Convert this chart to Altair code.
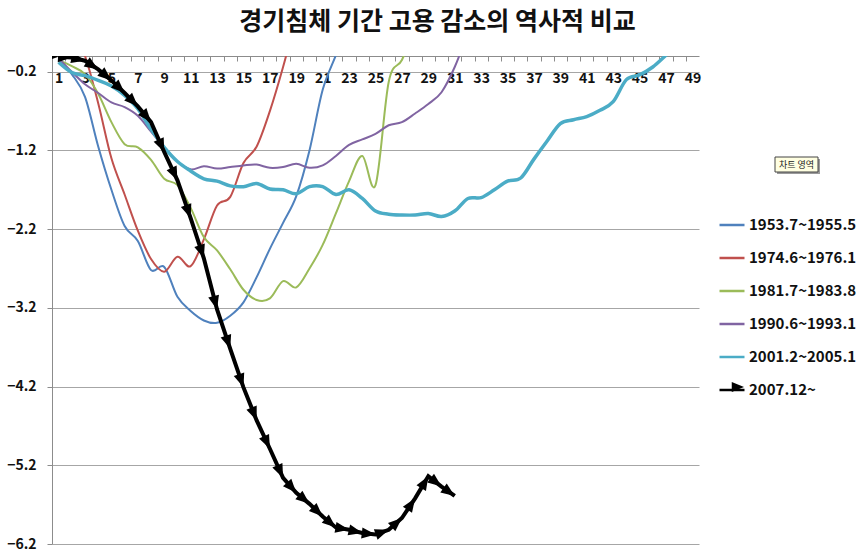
import math
import altair as alt
import pandas as pd

# ---------------- data ----------------
series_names = ["1953.7~1955.5", "1974.6~1976.1", "1981.7~1983.8",
                "1990.6~1993.1", "2001.2~2005.1", "2007.12~"]
series_colors = ["#4F81BD", "#C0504D", "#9BBB59", "#8064A2", "#4BACC6", "#000000"]

v1953 = [-0.03, -0.23, -0.52, -1.15, -1.70, -2.16, -2.35, -2.72, -2.68, -3.06,
         -3.24, -3.36, -3.39, -3.30, -3.13, -2.81, -2.45, -2.12, -1.78, -1.20,
         -0.43, 0.01, 0.45]
v1974 = [0.50, 0.35, 0.00, -0.60, -1.30, -1.76, -2.22, -2.58, -2.74, -2.55,
         -2.67, -2.33, -1.90, -1.79, -1.36, -1.15, -0.70, -0.14, 0.50]
v1981 = [-0.05, -0.13, -0.23, -0.48, -0.84, -1.12, -1.16, -1.32, -1.56, -1.64,
         -1.93, -2.30, -2.47, -2.71, -2.97, -3.10, -3.08, -2.86, -2.94, -2.70,
         -2.40, -2.00, -1.59, -1.27, -1.64, -0.33, -0.05, 0.35]
v1990 = [-0.03, -0.20, -0.36, -0.47, -0.59, -0.65, -0.76, -0.96, -1.16, -1.34,
         -1.44, -1.40, -1.43, -1.41, -1.39, -1.38, -1.42, -1.41, -1.37, -1.42,
         -1.39, -1.27, -1.13, -1.06, -0.99, -0.88, -0.84, -0.73, -0.61, -0.46,
         -0.14, 0.30]
v2001 = [-0.08, -0.21, -0.25, -0.31, -0.38, -0.50, -0.67, -0.93, -1.16, -1.34,
         -1.46, -1.56, -1.59, -1.65, -1.66, -1.62, -1.69, -1.70, -1.75, -1.66,
         -1.66, -1.76, -1.70, -1.81, -1.97, -2.01, -2.02, -2.02, -2.00, -2.04,
         -1.97, -1.81, -1.80, -1.70, -1.59, -1.55, -1.31, -1.08, -0.86, -0.81,
         -0.77, -0.69, -0.58, -0.30, -0.24, -0.14, 0.01, 0.17]
v2007 = [-0.01, -0.02, -0.06, -0.17, -0.31, -0.47, -0.64, -0.84, -1.22, -1.58,
         -2.06, -2.57, -3.22, -3.72, -4.21, -4.63, -4.99, -5.36, -5.55, -5.69,
         -5.85, -5.99, -6.02, -6.06, -6.08, -6.02, -5.87, -5.62, -5.34, -5.47,
         -5.59]

x_tick_values = list(range(1, 51))
y_tick_values = [-0.2, -1.2, -2.2, -3.2, -4.2, -5.2, -6.2]
title_text = "경기침체 기간 고용 감소의 역사적 비교"
note_text = "차트 영역"

# ---------------- layout ----------------
W, H = 647, 488
N_CAT = 49
bw = W / N_CAT
FONT = "Noto Sans CJK KR"
ARROW = "M0,0L-2,-0.8L-2,0.8Z"

LEG_X, LEG_Y, SYM, ROW_H, ROW_PAD = 666, 155, 25, 22, 11


def long_df(names, arrays):
    rows = []
    for name, vals in zip(names, arrays):
        for i, v in enumerate(vals):
            rows.append({"series": name, "month": i + 1, "value": v})
    return pd.DataFrame(rows)


thin_df = long_df(series_names[:4], [v1953, v1974, v1981, v1990])
teal_df = long_df(series_names[4:5], [v2001])
black_df = long_df(series_names[5:6], [v2007])

kx, ky = bw, H / 6.2
angles = []
for i in range(len(v2007)):
    a, b = (i - 1, i) if i > 0 else (0, 1)
    dy = -ky * (v2007[b] - v2007[a])
    angles.append(math.degrees(math.atan2(dy, kx)) % 360)
black_df["angle"] = angles

x_scale = alt.Scale(domain=[0.5, N_CAT + 0.5], nice=False, zero=False)
y_scale = alt.Scale(domain=[-6.2, 0], nice=False, zero=False)

x_axis = alt.Axis(values=x_tick_values, offset=-H, grid=False, title=None,
                  tickOffset=-bw / 2, labelOffset=bw / 2,
                  labelExpr="datum.value % 2 == 1 ? datum.label : ''",
                  labelOverlap=False, labelFlush=False,
                  domainColor="#8C8C8C", tickColor="#8C8C8C", tickSize=5,
                  labelFont=FONT, labelFontSize=14, labelFontWeight="bold",
                  labelColor="#111111", labelPadding=10)
y_axis = alt.Axis(values=y_tick_values, format=".1f", grid=True, title=None,
                  gridColor="#A6A6A6", gridWidth=1,
                  domainColor="#8C8C8C", tickColor="#8C8C8C", tickSize=5,
                  labelFont=FONT, labelFontSize=14, labelFontWeight="bold",
                  labelColor="#111111", labelPadding=11)

x_enc = alt.X("month:Q", scale=x_scale, axis=x_axis)
y_enc = alt.Y("value:Q", scale=y_scale, axis=y_axis)
color_scale = alt.Scale(domain=series_names, range=series_colors)

legend = alt.Legend(
    title=None, orient="none", legendX=LEG_X, legendY=LEG_Y, padding=0,
    symbolType="stroke", symbolSize=SYM * SYM, symbolStrokeWidth=2.5,
    rowPadding=ROW_PAD, labelOffset=3,
    labelFont=FONT, labelFontSize=15, labelFontWeight="bold", labelColor="#111111",
)
color_enc = alt.Color("series:N", scale=color_scale, legend=legend)

thin = alt.Chart(thin_df).mark_line(interpolate="cardinal", clip=True, strokeWidth=2).encode(
    x=x_enc, y=y_enc, color=color_enc,
)
teal = alt.Chart(teal_df).mark_line(interpolate="cardinal", clip=True, strokeWidth=3.5).encode(
    x=x_enc, y=y_enc, color=color_enc,
)
black_line = alt.Chart(black_df).mark_line(clip=True, strokeWidth=4).encode(
    x=x_enc, y=y_enc, color=color_enc,
)
arrows = alt.Chart(black_df).mark_point(
    shape=ARROW, filled=True, size=190, opacity=1, clip=True
).encode(
    x=x_enc, y=y_enc, angle=alt.Angle("angle:Q", scale=None),
    color=alt.value("#000000"),
)

# arrowhead on the legend entry of the 2007.12~ series
legend_row = len(series_names) - 1
legend_arrow_df = pd.DataFrame({"series": [series_names[-1]]})
legend_arrow = alt.Chart(legend_arrow_df).mark_point(
    shape=ARROW, filled=True, size=150, opacity=1, color="#000000"
).encode(
    x=alt.value(LEG_X + SYM + 1),
    y=alt.value(LEG_Y + ROW_H / 2 + legend_row * (ROW_H + ROW_PAD)),
)

note_df = pd.DataFrame({"text": [note_text]})
note_shadow = alt.Chart(note_df).mark_rect(fill="#9A9A9A").encode(
    x=alt.value(725), x2=alt.value(768), y=alt.value(103), y2=alt.value(118))
note_box = alt.Chart(note_df).mark_rect(fill="#FFFFE1", stroke="#444444", strokeWidth=1).encode(
    x=alt.value(723), x2=alt.value(766), y=alt.value(101), y2=alt.value(116))
note_label = alt.Chart(note_df).mark_text(font=FONT, fontSize=9, color="#222222").encode(
    x=alt.value(744.5), y=alt.value(108.5), text="text:N")

chart = alt.layer(thin, teal, black_line, arrows, legend_arrow,
                  note_shadow, note_box, note_label).properties(
    width=W, height=H,
    title=alt.TitleParams(text=title_text, font=FONT, fontSize=25, fontWeight="bold",
                          color="#111111", anchor="middle", dx=62, offset=21),
    padding={"left": 52, "top": 56, "right": 165, "bottom": 9},
    autosize=alt.AutoSizeParams(type="none"),
    background="white",
).configure_view(stroke=None)

chart.save("out.html", embed_options={"renderer": "svg", "actions": False})
